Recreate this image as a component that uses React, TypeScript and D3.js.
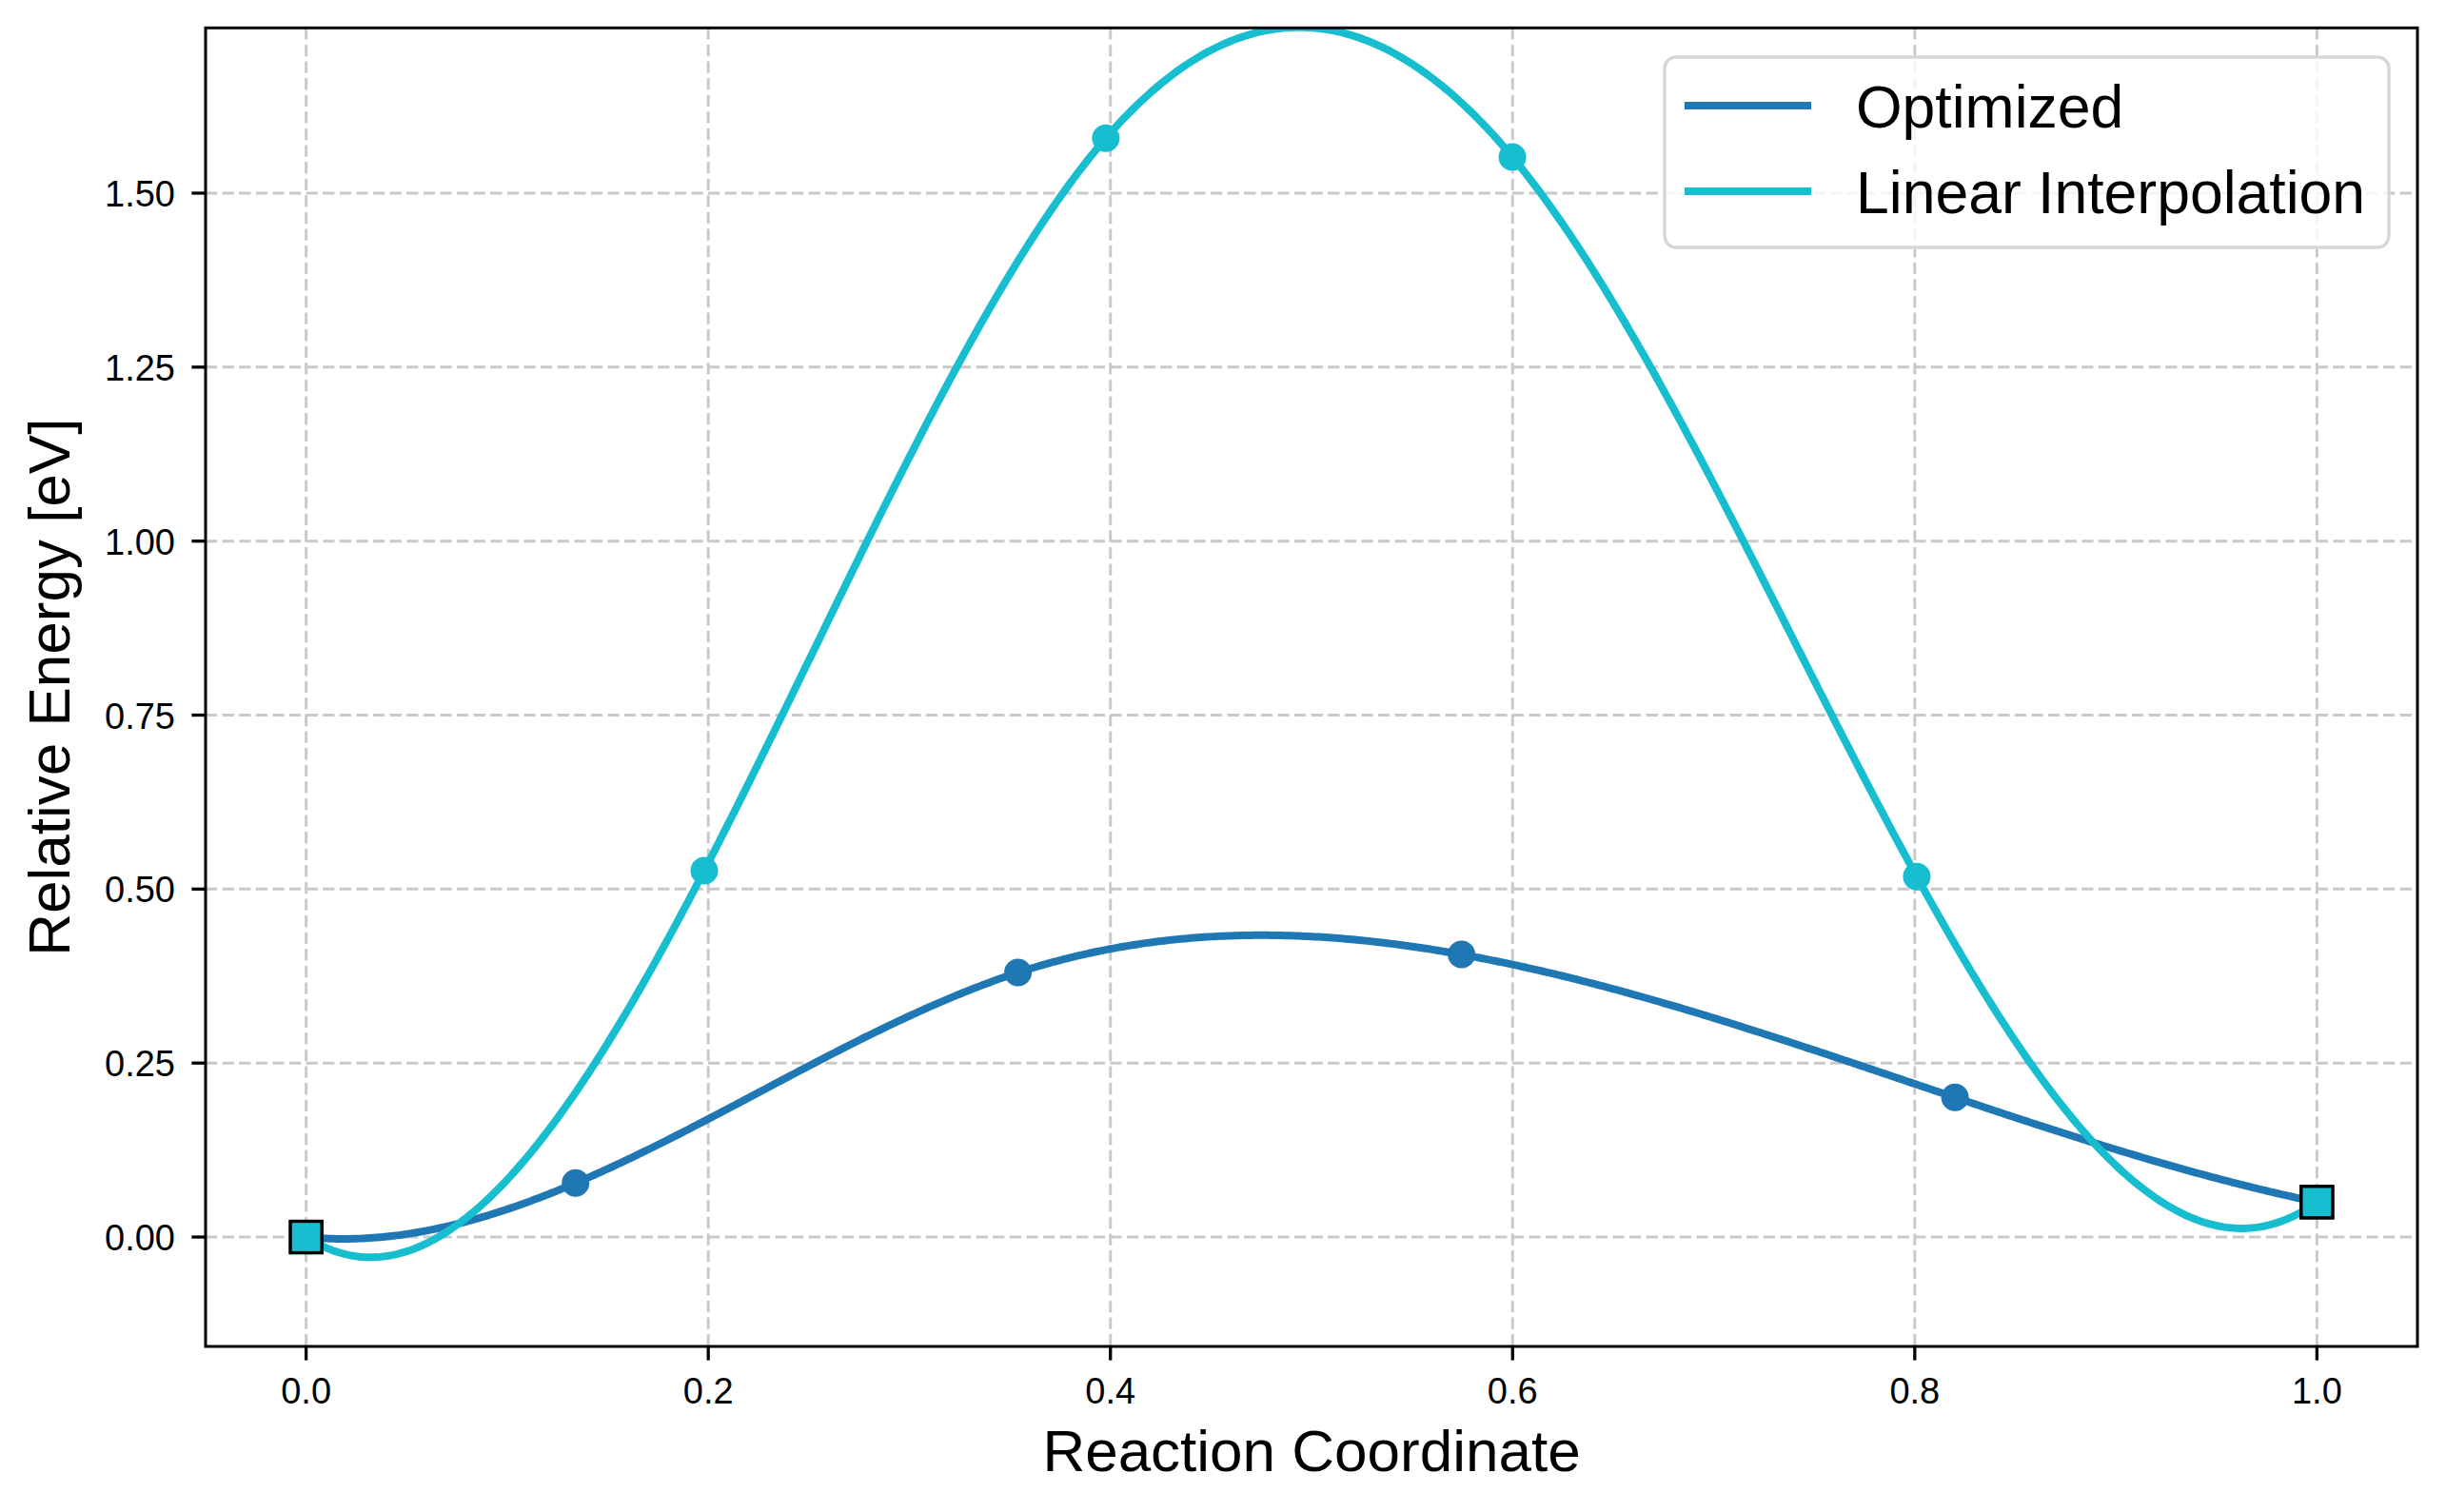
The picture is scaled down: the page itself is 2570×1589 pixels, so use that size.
import React from "react";
import * as d3 from "d3";

// ---- Data ----
const optimizedX = [0, 0.134, 0.354, 0.5746, 0.82, 1.0];
const optimizedY = [0, 0.0775, 0.38, 0.406, 0.2006, 0.0502];
const linearX = [0, 0.198, 0.3977, 0.5999, 0.801, 1.0];
const linearY = [0, 0.5265, 1.579, 1.552, 0.518, 0.0502];
const xTicks = [0, 0.2, 0.4, 0.6, 0.8, 1.0];
const yTicks = [0, 0.25, 0.5, 0.75, 1.0, 1.25, 1.5];
const seriesNames = ["Optimized", "Linear Interpolation"];
const seriesColors = ["#1f77b4", "#17becf"];

// not-a-knot cubic spline through points
function spline(xs: number[], ys: number[]) {
  const n = xs.length;
  const h: number[] = [];
  for (let i = 0; i < n - 1; i++) h.push(xs[i + 1] - xs[i]);
  const A: number[][] = Array.from({ length: n }, () => new Array(n).fill(0));
  const b: number[] = new Array(n).fill(0);
  A[0][0] = h[1];
  A[0][1] = -(h[0] + h[1]);
  A[0][2] = h[0];
  for (let i = 1; i < n - 1; i++) {
    A[i][i - 1] = h[i - 1];
    A[i][i] = 2 * (h[i - 1] + h[i]);
    A[i][i + 1] = h[i];
    b[i] = 6 * ((ys[i + 1] - ys[i]) / h[i] - (ys[i] - ys[i - 1]) / h[i - 1]);
  }
  A[n - 1][n - 3] = h[n - 2];
  A[n - 1][n - 2] = -(h[n - 3] + h[n - 2]);
  A[n - 1][n - 1] = h[n - 3];
  for (let c = 0; c < n; c++) {
    let p = c;
    for (let r = c + 1; r < n; r++) if (Math.abs(A[r][c]) > Math.abs(A[p][c])) p = r;
    [A[c], A[p]] = [A[p], A[c]];
    [b[c], b[p]] = [b[p], b[c]];
    for (let r = c + 1; r < n; r++) {
      const f = A[r][c] / A[c][c];
      for (let k = c; k < n; k++) A[r][k] -= f * A[c][k];
      b[r] -= f * b[c];
    }
  }
  const M = new Array(n).fill(0);
  for (let r = n - 1; r >= 0; r--) {
    let s = b[r];
    for (let k = r + 1; k < n; k++) s -= A[r][k] * M[k];
    M[r] = s / A[r][r];
  }
  return (x: number) => {
    let i = 0;
    while (i < n - 2 && x > xs[i + 1]) i++;
    const hi = h[i];
    const a = xs[i + 1] - x;
    const c = x - xs[i];
    return (
      (M[i] * a * a * a) / (6 * hi) +
      (M[i + 1] * c * c * c) / (6 * hi) +
      (ys[i] / hi - (M[i] * hi) / 6) * a +
      (ys[i + 1] / hi - (M[i + 1] * hi) / 6) * c
    );
  };
}

const W = 2570;
const H = 1589;
const L = 216, R = 2540, T = 29.3, B = 1415;

export default function App() {
  const x = d3.scaleLinear().domain([-0.05, 1.05]).range([L, R]);
  const y = d3.scaleLinear().domain([-0.1572, 1.7375]).range([B, T]);
  const font = "'Liberation Sans', Arial, Helvetica, sans-serif";

  const series = [
    { xs: optimizedX, ys: optimizedY },
    { xs: linearX, ys: linearY },
  ];
  const line = d3
    .line<[number, number]>()
    .x((d) => x(d[0]))
    .y((d) => y(d[1]));

  const curves = series.map((s) => {
    const f = spline(s.xs, s.ys);
    const pts: [number, number][] = d3.range(0, 601).map((i) => {
      const t = s.xs[0] + ((s.xs[s.xs.length - 1] - s.xs[0]) * i) / 600;
      return [t, f(t)] as [number, number];
    });
    return line(pts) || "";
  });

  const sq = 33;

  return (
    <svg
      width={W}
      height={H}
      style={{ position: "absolute", left: 0, top: 0, background: "#fff" }}
      fontFamily={font}
    >
      <defs>
        <clipPath id="plotclip">
          <rect x={L} y={T} width={R - L} height={B - T} />
        </clipPath>
      </defs>
      <rect x={0} y={0} width={W} height={H} fill="#fff" />
      <g stroke="#c9c9c9" strokeWidth={3} strokeDasharray="12.3 5.3">
        {xTicks.map((t) => (
          <line key={"gx" + t} x1={x(t)} x2={x(t)} y1={T} y2={B} />
        ))}
        {yTicks.map((t) => (
          <line key={"gy" + t} x1={L} x2={R} y1={y(t)} y2={y(t)} />
        ))}
      </g>
      <g clipPath="url(#plotclip)">
        {curves.map((d, i) => (
          <g key={"s" + i}>
            <path d={d} fill="none" stroke={seriesColors[i]} strokeWidth={8} strokeLinejoin="round" />
            {series[i].xs.slice(1, -1).map((xv, j) => (
              <circle key={j} cx={x(xv)} cy={y(series[i].ys[j + 1])} r={14.5} fill={seriesColors[i]} />
            ))}
          </g>
        ))}
        {series.map((s, i) =>
          [0, s.xs.length - 1].map((k) => (
            <rect
              key={"e" + i + "-" + k}
              x={x(s.xs[k]) - sq / 2}
              y={y(s.ys[k]) - sq / 2}
              width={sq}
              height={sq}
              fill={seriesColors[1]}
              stroke="#000"
              strokeWidth={3.3}
            />
          ))
        )}
      </g>
      <rect x={L} y={T} width={R - L} height={B - T} fill="none" stroke="#000" strokeWidth={3} />
      {xTicks.map((t) => (
        <g key={"xt" + t}>
          <line x1={x(t)} x2={x(t)} y1={B} y2={B + 14.6} stroke="#000" strokeWidth={3.3} />
          <text x={x(t)} y={1475} textAnchor="middle" fontSize={38} fill="#000">
            {d3.format(".1f")(t)}
          </text>
        </g>
      ))}
      {yTicks.map((t) => (
        <g key={"yt" + t}>
          <line x1={L - 14.6} x2={L} y1={y(t)} y2={y(t)} stroke="#000" strokeWidth={3.3} />
          <text x={184} y={y(t) + 14} textAnchor="end" fontSize={38} fill="#000">
            {d3.format(".2f")(t)}
          </text>
        </g>
      ))}
      <text x={(L + R) / 2} y={1546} textAnchor="middle" fontSize={62} fill="#000">
        Reaction Coordinate
      </text>
      <text
        transform={`translate(73, ${(T + B) / 2}) rotate(-90)`}
        textAnchor="middle"
        fontSize={62}
        fill="#000"
      >
        Relative Energy [eV]
      </text>
      <g>
        <rect x={1749} y={60} width={761} height={200} rx={12} fill="#fff" fillOpacity={0.8} stroke="#d6d6d6" strokeWidth={3.3} />
        {seriesNames.map((name, i) => (
          <g key={name}>
            <line x1={1770} x2={1903} y1={111 + i * 90} y2={111 + i * 90} stroke={seriesColors[i]} strokeWidth={8} />
            <text x={1950} y={134 + i * 90} fontSize={62.5} fill="#000">
              {name}
            </text>
          </g>
        ))}
      </g>
    </svg>
  );
}
